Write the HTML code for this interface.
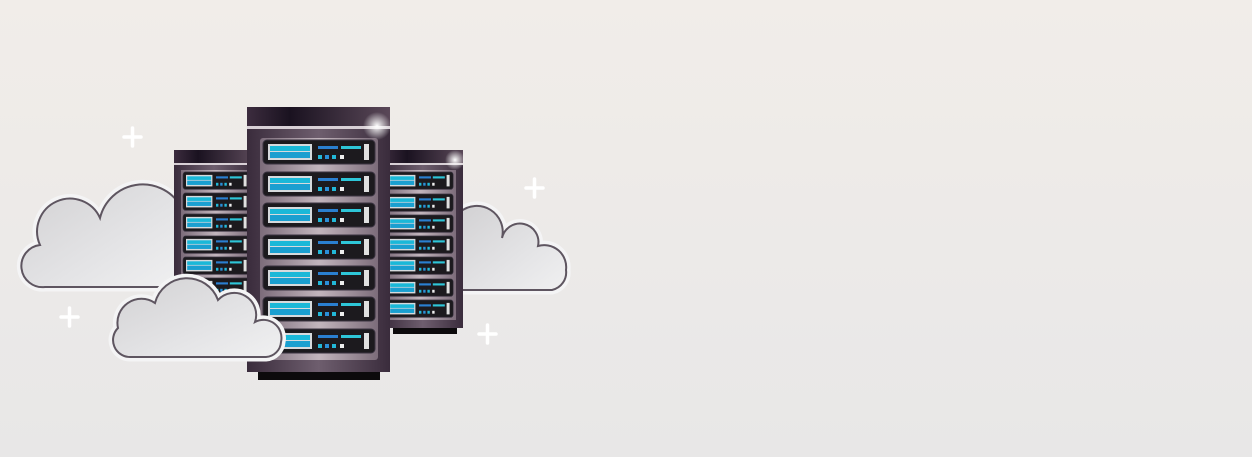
<!DOCTYPE html>
<html><head><style>html,body{margin:0;padding:0}body{width:1252px;height:457px;overflow:hidden}</style></head><body>
<svg width="1252" height="457" viewBox="0 0 1252 457" xmlns="http://www.w3.org/2000/svg">
<defs>
<linearGradient id="bg" x1="0" y1="0" x2="0" y2="1"><stop offset="0" stop-color="#f1ede9"/><stop offset="1" stop-color="#e8e7e7"/></linearGradient>
<linearGradient id="body" x1="0" y1="0" x2="1" y2="0"><stop offset="0" stop-color="#3a2c3c"/><stop offset="0.5" stop-color="#6e5e6e"/><stop offset="1" stop-color="#3a2c3c"/></linearGradient>
<linearGradient id="panel" x1="0" y1="0" x2="1" y2="0"><stop offset="0" stop-color="#7c6c7a"/><stop offset="0.5" stop-color="#c2b5bd"/><stop offset="1" stop-color="#7c6c7a"/></linearGradient>
<linearGradient id="cap" x1="0" y1="0" x2="1" y2="0"><stop offset="0" stop-color="#3c2c3e"/><stop offset="0.3" stop-color="#1a1220"/><stop offset="1" stop-color="#5a4858"/></linearGradient>
<linearGradient id="cl" x1="0" y1="0" x2="1" y2="1"><stop offset="0" stop-color="#d2d1d3"/><stop offset="0.6" stop-color="#e4e4e6"/><stop offset="1" stop-color="#f0f0f1"/></linearGradient>
<radialGradient id="glow"><stop offset="0" stop-color="#fff" stop-opacity="1"/><stop offset="1" stop-color="#fff" stop-opacity="0"/></radialGradient>
<g id="unit">
<rect x="0" y="0" width="112" height="24" rx="4" fill="#1c1a1e" stroke="#3a3340"/>
<rect x="5" y="4" width="44" height="16" fill="#d6dadd"/>
<rect x="7" y="6" width="40" height="5" fill="#1ab8d8"/>
<rect x="7" y="12" width="40" height="6" fill="#1a9fd0"/>
<rect x="55" y="6" width="20" height="3" fill="#2a7fd0"/>
<rect x="78" y="6" width="20" height="3" fill="#2ec6d8"/>
<rect x="55" y="15" width="4" height="4" fill="#22b8d8"/>
<rect x="62" y="15" width="4" height="4" fill="#2a8fd8"/>
<rect x="69" y="15" width="4" height="4" fill="#22b8d8"/>
<rect x="77" y="15" width="4" height="4" fill="#eeeeee"/>
<rect x="101" y="4" width="5" height="16" fill="#e0e0e0"/>
</g>
</defs>
<rect width="1252" height="457" fill="url(#bg)"/>

<!-- back-left cloud -->
<path d="M45 287 A21 21 0 0 1 40 245 A28 28 0 0 1 100 218 A44 44 0 0 1 180 205 L180 287 Z" fill="url(#cl)" stroke="#f4f4f5" stroke-width="9"/>
<path d="M45 287 A21 21 0 0 1 40 245 A28 28 0 0 1 100 218 A44 44 0 0 1 180 205 L180 287 Z" fill="url(#cl)" stroke="#5e5560" stroke-width="2"/>
<!-- right cloud -->
<path d="M460 290 L460 212 A26 26 0 0 1 502 238 A18 18 0 0 1 538 246 A22 22 0 0 1 566 270 A18 18 0 0 1 552 290 Z" fill="url(#cl)" stroke="#f4f4f5" stroke-width="9"/>
<path d="M460 290 L460 212 A26 26 0 0 1 502 238 A18 18 0 0 1 538 246 A22 22 0 0 1 566 270 A18 18 0 0 1 552 290 Z" fill="url(#cl)" stroke="#5e5560" stroke-width="2"/>

<!-- left server -->
<rect x="174" y="150" width="80" height="180" fill="url(#body)"/>
<rect x="174" y="150" width="80" height="13" fill="url(#cap)"/>
<rect x="174" y="163" width="80" height="2" fill="#d8d0d6"/>
<rect x="181" y="170" width="70" height="150" fill="url(#panel)"/>
<g transform="translate(183,172) scale(0.6,0.72)"><use href="#unit"/></g>
<g transform="translate(183,193) scale(0.6,0.72)"><use href="#unit"/></g>
<g transform="translate(183,214) scale(0.6,0.72)"><use href="#unit"/></g>
<g transform="translate(183,236) scale(0.6,0.72)"><use href="#unit"/></g>
<g transform="translate(183,257) scale(0.6,0.72)"><use href="#unit"/></g>
<g transform="translate(183,278) scale(0.6,0.72)"><use href="#unit"/></g>

<!-- right server -->
<rect x="393" y="326" width="64" height="8" fill="#0c0a0c"/>
<rect x="383" y="150" width="80" height="178" fill="url(#body)"/>
<rect x="383" y="150" width="80" height="13" fill="url(#cap)"/>
<rect x="383" y="163" width="80" height="2" fill="#d8d0d6"/>
<rect x="385" y="170" width="71" height="150" fill="url(#panel)"/>
<g transform="translate(386,172) scale(0.6,0.72)"><use href="#unit"/></g>
<g transform="translate(386,194) scale(0.6,0.72)"><use href="#unit"/></g>
<g transform="translate(386,215) scale(0.6,0.72)"><use href="#unit"/></g>
<g transform="translate(386,236) scale(0.6,0.72)"><use href="#unit"/></g>
<g transform="translate(386,257) scale(0.6,0.72)"><use href="#unit"/></g>
<g transform="translate(386,279) scale(0.6,0.72)"><use href="#unit"/></g>
<g transform="translate(386,300) scale(0.6,0.72)"><use href="#unit"/></g>
<circle cx="455" cy="160" r="10" fill="url(#glow)"/>

<!-- center server -->
<rect x="258" y="370" width="122" height="10" fill="#0c0a0c"/>
<rect x="247" y="107" width="143" height="265" fill="url(#body)"/>
<rect x="247" y="107" width="143" height="19" fill="url(#cap)"/>
<rect x="247" y="126" width="143" height="3" fill="#d8d0d6"/>
<rect x="260" y="138" width="118" height="222" rx="3" fill="url(#panel)"/>
<use href="#unit" x="263" y="140"/>
<use href="#unit" x="263" y="172"/>
<use href="#unit" x="263" y="203"/>
<use href="#unit" x="263" y="235"/>
<use href="#unit" x="263" y="266"/>
<use href="#unit" x="263" y="297"/>
<use href="#unit" x="263" y="329"/>
<circle cx="377" cy="126" r="14" fill="url(#glow)"/>

<!-- front cloud -->
<path d="M130 357 A17 17 0 0 1 118 328 A24 24 0 0 1 155 303 A33 33 0 0 1 218 300 A22 22 0 0 1 255 322 A18 18 0 0 1 281 342 A16 16 0 0 1 266 357 Z" fill="url(#cl)" stroke="#f4f4f5" stroke-width="9"/>
<path d="M130 357 A17 17 0 0 1 118 328 A24 24 0 0 1 155 303 A33 33 0 0 1 218 300 A22 22 0 0 1 255 322 A18 18 0 0 1 281 342 A16 16 0 0 1 266 357 Z" fill="url(#cl)" stroke="#5e5560" stroke-width="2"/>

<!-- plus signs -->
<g stroke="#ffffff" stroke-width="3.5" stroke-linecap="round">
<path d="M124 137 H141 M132.5 128 V146"/>
<path d="M526 188 H543 M534.5 179 V197"/>
<path d="M61 317 H78 M69.5 308 V326"/>
<path d="M479 334 H496 M487.5 325 V343"/>
</g>
</svg>
</body></html>
